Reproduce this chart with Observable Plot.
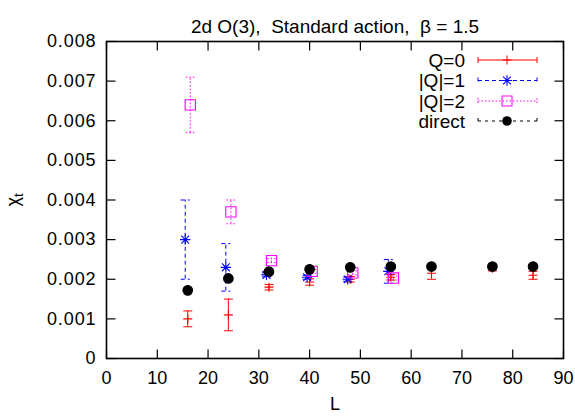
<!DOCTYPE html>
<html><head>
<meta charset="utf-8">
<script src="https://cdn.jsdelivr.net/npm/d3@7"></script>
<script src="https://cdn.jsdelivr.net/npm/@observablehq/plot@0.6"></script>
<style>
body{margin:0;background:#fff}
g[aria-label="y-axis tick label"] text{letter-spacing:0.9px}
</style>
</head><body><div id="chart"></div>
<script>
const title = "2d O(3),  Standard action,  β = 1.5";
const xLabel = "L";
const xTicks = [0, 10, 20, 30, 40, 50, 60, 70, 80, 90];
const yTicks = [0, 0.001, 0.002, 0.003, 0.004, 0.005, 0.006, 0.007, 0.008];
const yTickLabels = ["0", "0.001", "0.002", "0.003", "0.004", "0.005", "0.006", "0.007", "0.008"];
const seriesNames = ["Q=0", "|Q|=1", "|Q|=2", "direct"];

const q0L = [16, 24, 32, 40, 48, 56, 64, 76, 84];
const q0Val = [0.0010, 0.0011, 0.0018, 0.00193, 0.0020, 0.00205, 0.00215, 0.00228, 0.0021];
const q0Err = [0.0002, 0.0004, 0.00007, 0.00008, 0.00007, 0.00007, 0.00015, 0.00007, 0.0001];

const q1L = [15.5, 23.5, 31.5, 39.5, 47.5, 55.5];
const q1Val = [0.0030, 0.0023, 0.00211, 0.00205, 0.0020, 0.0022];
const q1Err = [0.0010, 0.0006, 0.00005, 0.00005, 0.00005, 0.0003];

const q2L = [16.5, 24.5, 32.5, 40.5, 48.5, 56.5];
const q2Val = [0.0064, 0.0037, 0.00247, 0.0022, 0.00216, 0.00203];
const q2Err = [0.0007, 0.0003, 0.00005, 0.00005, 0.00005, 0.00005];

const dL = [16, 24, 32, 40, 48, 56, 64, 76, 84];
const dVal = [0.00172, 0.00202, 0.00219, 0.00225, 0.0023, 0.00232, 0.00232, 0.00232, 0.00232];
const dErr = [0.00003, 0.00003, 0.00003, 0.00003, 0.00003, 0.00003, 0.00003, 0.00003, 0.00003];

const colors = ["#ff0000", "#0000ff", "#ff00ff", "#000000"];
const dashes = [null, "4,3", "1.5,2", "3,4"];

const rows = (L, V, E) => L.map((l, i) => ({L: l, v: V[i], e: E[i]}));
const series = [rows(q0L, q0Val, q0Err), rows(q1L, q1Val, q1Err), rows(q2L, q2Val, q2Err), rows(dL, dVal, dErr)];

// custom stroked symbols
const hline = {draw(c, s) { const w = Math.sqrt(s / Math.PI); c.moveTo(-w, 0); c.lineTo(w, 0); }};
const plus = {draw(c, s) { const w = Math.sqrt(s / Math.PI); c.moveTo(-w, 0); c.lineTo(w, 0); c.moveTo(0, -w); c.lineTo(0, w); }};
const star = {draw(c, s) {
  const w = Math.sqrt(s / Math.PI), q = w * 0.75;
  c.moveTo(-w, 0); c.lineTo(w, 0); c.moveTo(0, -w); c.lineTo(0, w);
  c.moveTo(-q, -q); c.lineTo(q, q); c.moveTo(-q, q); c.lineTo(q, -q);
}};
const tickUp = {draw(c, s) { const w = Math.sqrt(s / Math.PI); c.moveTo(0, 0); c.lineTo(0, -w); }};
const tickDown = {draw(c, s) { const w = Math.sqrt(s / Math.PI); c.moveTo(0, 0); c.lineTo(0, w); }};
const tickRight = {draw(c, s) { const w = Math.sqrt(s / Math.PI); c.moveTo(0, 0); c.lineTo(w, 0); }};
const tickLeft = {draw(c, s) { const w = Math.sqrt(s / Math.PI); c.moveTo(0, 0); c.lineTo(-w, 0); }};

const markers = [
  {symbol: plus, r: 4.5, fill: "none"},
  {symbol: star, r: 5.2, fill: "none"},
  {symbol: "square", r: 5.8, fill: "none"},
  {symbol: "circle", r: 4.8, fill: "black"}
];

const marks = [];
series.forEach((data, k) => {
  const col = colors[k], dash = dashes[k];
  marks.push(Plot.ruleX(data, {x: "L", y1: d => d.v - d.e, y2: d => d.v + d.e, stroke: col, strokeWidth: 1, strokeDasharray: dash}));
  marks.push(Plot.dot(data, {x: "L", y: d => d.v + d.e, symbol: hline, r: 4.5, stroke: col, strokeWidth: 1, strokeDasharray: dash}));
  marks.push(Plot.dot(data, {x: "L", y: d => d.v - d.e, symbol: hline, r: 4.5, stroke: col, strokeWidth: 1, strokeDasharray: dash}));
  const m = markers[k];
  marks.push(Plot.dot(data, {x: "L", y: "v", symbol: m.symbol, r: m.r, stroke: col, fill: m.fill === "none" ? "none" : col, strokeWidth: 1.1}));
});

const plot = Plot.plot({
  width: 575,
  height: 417,
  marginLeft: 106,
  marginRight: 12,
  marginTop: 41,
  marginBottom: 59,
  style: {fontFamily: "'Liberation Sans', Arial, sans-serif", fontSize: "18px", background: "white", color: "black"},
  x: {domain: [0, 90]},
  y: {domain: [0, 0.008]},
  marks: [
    ...marks,
    Plot.dot(xTicks, {x: d => d, frameAnchor: "bottom", symbol: tickUp, r: 9, stroke: "black", strokeWidth: 1.2}),
    Plot.dot(xTicks, {x: d => d, frameAnchor: "top", symbol: tickDown, r: 9, stroke: "black", strokeWidth: 1.2}),
    Plot.dot(yTicks, {y: d => d, frameAnchor: "left", symbol: tickRight, r: 9, stroke: "black", strokeWidth: 1.2}),
    Plot.dot(yTicks, {y: d => d, frameAnchor: "right", symbol: tickLeft, r: 9, stroke: "black", strokeWidth: 1.2}),
    Plot.axisX({ticks: xTicks, tickSize: 0, tickPadding: 13, fontSize: 18, label: null}),
    Plot.axisY({ticks: yTicks, tickSize: 0, tickPadding: 10, fontSize: 18, label: null, tickFormat: (d, i) => yTickLabels[i]}),
    Plot.frame({stroke: "black", strokeWidth: 1.6}),
    Plot.text([title], {frameAnchor: "top", dy: -22, fontSize: 19, fill: "black"}),
    Plot.text([xLabel], {frameAnchor: "bottom", dy: 51, fontSize: 18, fill: "black"})
  ]
});
document.getElementById("chart").appendChild(plot);

// y label (rotated chi_t) and legend
const svg = d3.select(plot);
const yl = svg.append("text").attr("transform", "translate(19,200) rotate(-90)")
  .attr("text-anchor", "middle").attr("font-size", 18).attr("fill", "black")
  .attr("font-family", "'Liberation Sans', Arial, sans-serif");
yl.append("tspan").text("χ");
yl.append("tspan").attr("font-size", 13).attr("dy", 4).text("t");

const lg = svg.append("g").attr("font-family", "'Liberation Sans', Arial, sans-serif");
const rowY = [60, 80.5, 101, 121];
seriesNames.forEach((name, k) => {
  const y = rowY[k], col = colors[k], dash = dashes[k];
  lg.append("text").attr("x", 465).attr("y", y).attr("dy", "0.35em").attr("text-anchor", "end")
    .attr("font-size", 19).attr("fill", "black").text(name);
  lg.append("line").attr("x1", 478).attr("x2", 537).attr("y1", y).attr("y2", y)
    .attr("stroke", col).attr("stroke-dasharray", dash);
  [478, 537].forEach(x => lg.append("line").attr("x1", x).attr("x2", x).attr("y1", y - 3).attr("y2", y + 3)
    .attr("stroke", col).attr("stroke-dasharray", dash));
  const mx = 507;
  if (k === 0) {
    lg.append("path").attr("d", `M${mx-4.5},${y}h9M${mx},${y-4.5}v9`).attr("stroke", col).attr("fill", "none");
  } else if (k === 1) {
    const w = 5.2, q = w * 0.75;
    lg.append("path").attr("d", `M${-w},0h${2*w}M0,${-w}v${2*w}M${-q},${-q}L${q},${q}M${-q},${q}L${q},${-q}`)
      .attr("transform", `translate(${mx},${y})`).attr("stroke", col).attr("stroke-width", 1.1).attr("fill", "none");
  } else if (k === 2) {
    lg.append("rect").attr("x", mx - 5).attr("y", y - 5).attr("width", 10).attr("height", 10).attr("stroke", col).attr("fill", "none");
  } else {
    lg.append("circle").attr("cx", mx).attr("cy", y).attr("r", 4.8).attr("fill", col);
  }
});
</script>
</body></html>
